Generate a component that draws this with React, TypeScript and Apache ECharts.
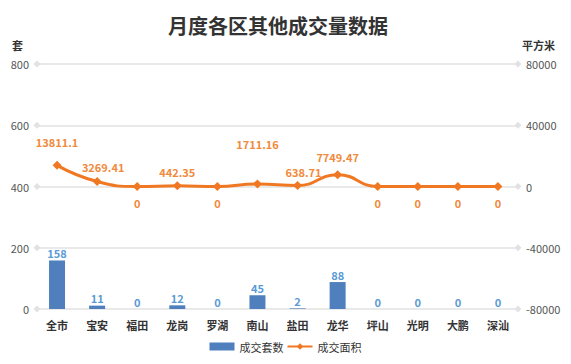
import React, { useEffect, useRef } from "react";
import * as echarts from "echarts";

const categories = ["全市", "宝安", "福田", "龙岗", "罗湖", "南山", "盐田", "龙华", "坪山", "光明", "大鹏", "深汕"];
const units = [158, 11, 0, 12, 0, 45, 2, 88, 0, 0, 0, 0];
const areas = [13811.1, 3269.41, 0, 442.35, 0, 1711.16, 638.71, 7749.47, 0, 0, 0, 0];
const leftTicks = [0, 200, 400, 600, 800];

const FONT = "'Noto Sans CJK SC', 'Noto Sans', sans-serif";

// label tweaks for the area line (by category index)
const areaLabelDistance: Record<number, number> = { 0: 13, 1: 5, 3: 4, 5: 30, 6: 4, 7: 8 };
const areaLabelOffset: Record<number, number[]> = { 1: [6, 0], 6: [6, 0] };

export default function App() {
  const ref = useRef<HTMLDivElement>(null);
  useEffect(() => {
    if (!ref.current) return;
    const chart = echarts.init(ref.current, undefined, { renderer: "svg" });
    chart.setOption({
      animation: false,
      textStyle: { fontFamily: FONT },
      title: {
        text: "月度各区其他成交量数据",
        left: 163,
        top: 10,
        textStyle: { fontSize: 20, fontWeight: "bold", color: "#333", fontFamily: FONT },
      },
      legend: {
        bottom: 7,
        left: "center",
        itemWidth: 25,
        itemHeight: 8,
        itemGap: 3,
        textStyle: { fontSize: 11, color: "#333", fontFamily: FONT },
        data: [
          { name: "成交套数", icon: "rect" },
          { name: "成交面积" },
        ],
      },
      grid: { left: 37, right: 53, top: 64, bottom: 55, containLabel: false },
      xAxis: {
        type: "category",
        data: categories,
        axisLine: { show: false },
        axisTick: { show: false },
        axisLabel: { fontSize: 11, fontWeight: "bold", color: "#333", margin: 10, fontFamily: FONT },
      },
      yAxis: [
        {
          type: "value",
          min: 0,
          max: 800,
          interval: 200,
          name: "套",
          nameLocation: "end",
          nameGap: 14,
          nameTextStyle: { fontSize: 11, fontWeight: "bold", color: "#333", align: "right", padding: [0, 14, 0, 0] },
          axisLine: { show: false },
          axisTick: { show: false },
          splitLine: { show: false },
          axisLabel: { fontSize: 11, color: "#555", margin: 8 },
        },
        {
          type: "value",
          min: -80000,
          max: 80000,
          interval: 40000,
          name: "平方米",
          nameLocation: "end",
          nameGap: 14,
          nameTextStyle: { fontSize: 11, fontWeight: "bold", color: "#333", align: "left", padding: [0, 0, 0, 4] },
          axisLine: { show: false },
          axisTick: { show: false },
          splitLine: { show: false },
          axisLabel: { fontSize: 11, color: "#555", margin: 8, formatter: (v: number) => String(v) },
        },
      ],
      series: [
        {
          name: "成交套数",
          type: "bar",
          data: units,
          barWidth: 16,
          itemStyle: { color: "#4f7fbd" },
          label: {
            show: true,
            position: "top",
            fontSize: 11,
            fontWeight: "bold",
            color: "#5b9bd5",
            distance: 2,
          },
          markLine: {
            silent: true,
            symbol: ["diamond", "diamond"],
            symbolSize: 7,
            label: { show: false },
            lineStyle: { color: "#e2e2e2", type: "solid", width: 1.5 },
            itemStyle: { color: "#d8d8d8" },
            data: leftTicks.map((v) => ({ yAxis: v })),
            z: 0,
          },
          z: 2,
        },
        {
          name: "成交面积",
          type: "line",
          yAxisIndex: 1,
          data: areas.map((v, i) => ({
            value: v,
            label: {
              position: v === 0 ? "bottom" : "top",
              distance: v === 0 ? 6 : areaLabelDistance[i] ?? 8,
              offset: areaLabelOffset[i] ?? [0, 0],
            },
          })),
          smooth: true,
          symbol: "diamond",
          symbolSize: 9,
          lineStyle: { color: "#f07822", width: 3 },
          itemStyle: { color: "#f07822" },
          label: {
            show: true,
            fontSize: 11,
            fontWeight: "bold",
            color: "#f08a3c",
          },
          z: 3,
        },
      ],
    });
    return () => chart.dispose();
  }, []);
  return <div ref={ref} style={{ position: "absolute", left: 0, top: 0, width: 571, height: 364 }} />;
}
